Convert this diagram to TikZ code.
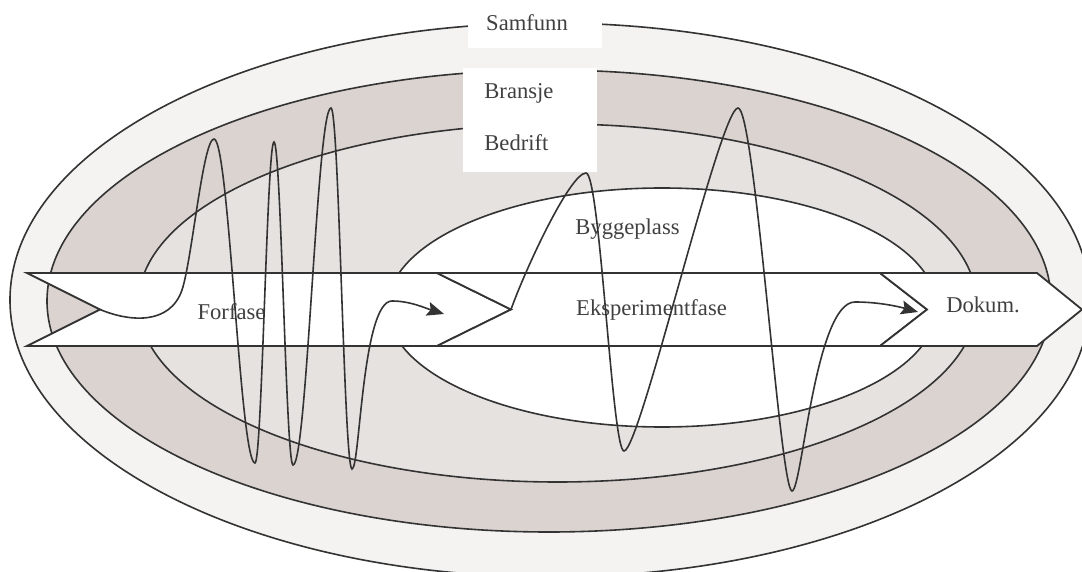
\documentclass[tikz,border=0pt]{standalone}
\usepackage{fontspec}
\setmainfont{Liberation Serif}
\usepackage{xcolor}
\usepackage{tikz}
\usetikzlibrary{arrows.meta}
\definecolor{ringouter}{HTML}{F4F3F2}
\definecolor{ringmid}{HTML}{DBD3D0}
\definecolor{ringinner}{HTML}{E6E2DF}
\definecolor{myline}{HTML}{333333}
\definecolor{mytext}{HTML}{404040}
\tikzstyle{ring} = [draw=myline, line width=0.8pt]
\tikzstyle{phase} = [draw=myline, fill=white, line width=0.9pt, line join=miter]
\tikzstyle{txt} = [text=mytext, font=\fontsize{11.3}{13}\selectfont, inner sep=0pt]
\tikzstyle{wave} = [draw=myline, line width=0.8pt, -{Stealth[length=8.5pt,width=7pt,inset=1.5pt]}]

\begin{document}
\begin{tikzpicture}[x=0.5pt, y=-0.5pt, >=Stealth]
\clip (0,0) rectangle (1082,572);
\fill[white] (0,0) rectangle (1082,572);

\draw[ring, fill=ringouter] (550,300) ellipse [x radius=540, y radius=277];
\draw[ring, fill=ringmid] (549,301) ellipse [x radius=502, y radius=231];
\draw[ring, fill=ringinner] (557.5,303) ellipse [x radius=419, y radius=179];
\draw[ring, fill=white] (662,307.5) ellipse [x radius=274.5, y radius=119.5];

\fill[white] (468,0) rectangle (602,48);
\fill[white] (463,68) rectangle (597,172);

\node[txt, anchor=base] (samfunn) at (527,31) {Samfunn};
\node[txt, anchor=base west] (bransje) at (484,99) {Bransje};
\node[txt, anchor=base west] (bedrift) at (484,151) {Bedrift};
\node[txt, anchor=base] (byggeplass) at (627.5,235) {Byggeplass};

\draw[phase] (27,273) -- (437,273) -- (511,309.5) -- (437,346) -- (27,346) -- (100,309.5) -- cycle;
\draw[phase] (437,273) -- (880,273) -- (927,309.5) -- (880,346) -- (437,346) -- (511,309.5) -- cycle;
\draw[phase] (880,273) -- (1037,273) -- (1082,309.5) -- (1037,346) -- (880,346) -- (927,309.5) -- cycle;

\coordinate (notch) at (100,309.5);
\coordinate (tipforfase) at (511,309.5);
\coordinate (endforfase) at (444,314);
\coordinate (endeksp) at (918,312);

\node[txt, anchor=base] (forfase) at (231.5,320) {Forfase};
\node[txt, anchor=base] (eksperiment) at (651.5,315.5) {Eksperimentfase};
\node[txt, anchor=base] (dokum) at (983,312.5) {Dokum.};

\draw[wave] (notch) .. controls (130,322) and (170,325) .. (182,290)
  .. controls (192,260) and (203,139) .. (214,139)
  .. controls (229,139) and (240,463) .. (255,463)
  .. controls (262,463) and (267,142) .. (274,142)
  .. controls (281,142) and (286,465) .. (293,465)
  .. controls (307,465) and (317,108) .. (331,108)
  .. controls (339,108) and (344,469) .. (352,469)
  .. controls (360,469) and (362,301) .. (392,301)
  .. controls (410,301) and (425,308) .. (endforfase);

\draw[wave] (tipforfase) .. controls (525,270) and (570,173) .. (586,173)
  .. controls (600,173) and (612,451) .. (624,451)
  .. controls (640,451) and (720,108) .. (738,108)
  .. controls (755,108) and (780,491) .. (792,491)
  .. controls (802,491) and (815,302) .. (855,302)
  .. controls (880,302) and (900,307) .. (endeksp);
\end{tikzpicture}
\end{document}
